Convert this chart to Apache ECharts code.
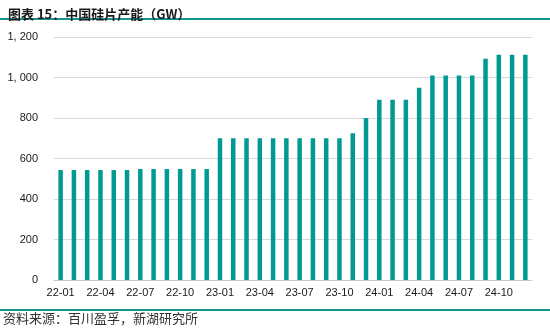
<!DOCTYPE html>
<html>
<head>
<meta charset="utf-8">
<script src="https://cdn.jsdelivr.net/npm/echarts@6/dist/echarts.min.js"></script>
<style>html,body{margin:0;padding:0;background:#fff}#c{width:550px;height:330px}</style>
</head>
<body>
<div id="c"></div>
<script>
var categories = ['22-01','22-02','22-03','22-04','22-05','22-06','22-07','22-08','22-09','22-10','22-11','22-12',
  '23-01','23-02','23-03','23-04','23-05','23-06','23-07','23-08','23-09','23-10','23-11','23-12',
  '24-01','24-02','24-03','24-04','24-05','24-06','24-07','24-08','24-09','24-10','24-11','24-12'];
var capacity = [543,543,543,543,543,543,548,548,548,548,548,548,
  700,700,700,700,700,700,700,700,700,700,725,800,
  890,890,890,950,1010,1010,1010,1010,1092,1112,1112,1112];
var yTicks = [0,200,400,600,800,1000,1200];
var titleText = '图表 15：中国硅片产能（GW）';
var sourceText = '资料来源：百川盈孚，新湖研究所';

var chart = echarts.init(document.getElementById('c'));
chart.setOption({
  animation: false,
  backgroundColor: '#fff',
  title: {
    text: titleText, left: 3, top: 3,
    textStyle: {fontFamily: 'Noto Sans CJK SC', fontSize: 13, fontWeight: 'bold', color: '#1a1a1a'}
  },
  graphic: [
    {type: 'rect', shape: {x: 0, y: 18, width: 550, height: 2}, style: {fill: '#12968e'}},
    {type: 'rect', shape: {x: 0, y: 309, width: 550, height: 2}, style: {fill: '#12968e'}},
    {type: 'text', left: 3, top: 312, style: {text: sourceText, font: '13px "Noto Sans CJK SC"', fill: '#333'}}
  ],
  grid: {left: 54, right: 18, top: 37, bottom: 50},
  xAxis: {
    type: 'category', data: categories,
    axisLine: {lineStyle: {color: '#c8c8c8'}},
    axisTick: {interval: 2, length: 4, lineStyle: {color: '#c8c8c8'}},
    axisLabel: {interval: 2, color: '#1a1a1a', fontSize: 11, fontFamily: 'Liberation Sans', margin: 7}
  },
  yAxis: {
    type: 'value', min: yTicks[0], max: yTicks[yTicks.length-1], interval: 200,
    axisLine: {show: false}, axisTick: {show: false},
    splitLine: {lineStyle: {color: '#d9d9d9', width: 1}},
    axisLabel: {color: '#1a1a1a', fontSize: 11, fontFamily: 'Liberation Sans', margin: 16,
      formatter: function (v) { return v >= 1000 ? Math.floor(v/1000) + ', ' + String(v % 1000).padStart(3,'0') : String(v); }}
  },
  series: [{
    type: 'bar', data: capacity, barWidth: 4.5,
    itemStyle: {color: '#009a93'}
  }]
});
</script>
</body>
</html>
